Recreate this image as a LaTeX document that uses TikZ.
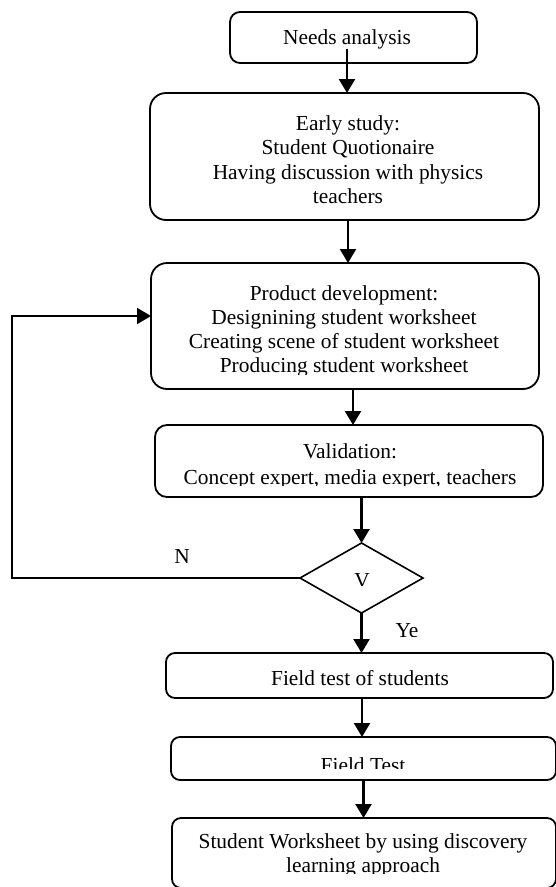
\documentclass[tikz,border=0pt]{standalone}
\usepackage{fontspec}
\setmainfont{Liberation Serif}
\usetikzlibrary{arrows.meta,shapes.geometric}
\begin{document}
\begin{tikzpicture}[x=1pt,y=-1pt,
  box/.style={draw, line width=1.8pt, rounded corners=#1, inner sep=0pt, outer sep=0pt},
  txt/.style={font=\fontsize{21.4}{24.5}\selectfont, inner sep=0pt, align=center},
  arr/.style={line width=2.4pt, -{Triangle[width=16pt,length=14pt]}},
  fbline/.style={line width=1.8pt, -{Triangle[width=16pt,length=14pt]}}
]
\useasboundingbox (0,0) rectangle (555,887);

% boxes
\node[box=10pt, minimum width=247pt, minimum height=51pt] (b1) at (353.5,37.5) {};
\node[box=16pt, minimum width=389pt, minimum height=127pt] (b2) at (344.5,156.5) {};
\node[box=16pt, minimum width=388pt, minimum height=126pt] (b3) at (345,326) {};
\node[box=12pt, minimum width=388pt, minimum height=72pt] (b4) at (349,461) {};
\node[draw, diamond, line width=1.6pt, minimum width=123pt, minimum height=70pt, inner sep=0pt, outer sep=0pt] (d) at (361.5,578) {};
\node[box=9pt, minimum width=387pt, minimum height=45pt] (b5) at (359.5,675.5) {};
\node[box=9pt, minimum width=385pt, minimum height=43pt] (b6) at (363.5,758.5) {};
\node[box=9pt, minimum width=384pt, minimum height=70pt] (b7) at (364,853) {};

% texts (base anchor = baseline of the last line)
\node[txt, anchor=base] (t1) at (347,44) {Needs analysis};
\node[txt, anchor=base] (t2) at (348,203.5) {Early study:\\Student Quotionaire\\Having discussion with physics\\teachers};
\begin{scope}
  \clip (155,270) rectangle (535,374);
  \node[txt, font=\fontsize{21.4}{23.8}\selectfont, anchor=base] (t3) at (344,372) {Product development:\\Designining student worksheet\\Creating scene of student worksheet\\Producing student worksheet};
\end{scope}
\begin{scope}
  \clip (160,430) rectangle (540,485);
  \node[txt, font=\fontsize{21.4}{26}\selectfont, anchor=base] (t4) at (350,484.5) {Validation:\\Concept expert, media expert, teachers};
\end{scope}
\node[txt, anchor=base] (tn) at (182,563) {N};
\begin{scope}
  \clip (340,560) rectangle (385,585);
  \node[txt, anchor=base] (tv) at (362,587) {V};
\end{scope}
\begin{scope}
  \clip (385,610) rectangle (430,636);
  \node[txt, anchor=base] (ty) at (407,637) {Ye};
\end{scope}
\node[txt, anchor=base] (t5) at (360,685) {Field test of students};
\begin{scope}
  \clip (180,740) rectangle (550,768);
  \node[txt, anchor=base] (t6) at (363,772) {Field Test};
\end{scope}
\begin{scope}
  \clip (180,822) rectangle (550,873.5);
  \node[txt, font=\fontsize{21.4}{24}\selectfont, anchor=base] (t7) at (363,872.5) {Student Worksheet by using discovery\\learning approach};
\end{scope}

% connectors
\coordinate (fb) at (12,316);
\draw[arr] (t1.south) -- (t1.south |- b2.north);
\draw[arr] (b2.south -| t2) -- (b3.north -| t2);
\draw[arr] ([xshift=8pt]b3.south) -- ([xshift=4pt]b4.north);
\draw[arr] (b4.south -| d.north) -- (d.north);
\draw[arr] (d.south) -- (d.south |- b5.north);
\draw[arr] ([xshift=2.5pt]b5.south) -- ([xshift=2.5pt]b5.south |- b6.north);
\draw[arr] (b6.south) -- (b6.south |- b7.north);
\draw[fbline] (d.west) -| (fb) -- (fb -| b3.west);
\end{tikzpicture}
\end{document}
